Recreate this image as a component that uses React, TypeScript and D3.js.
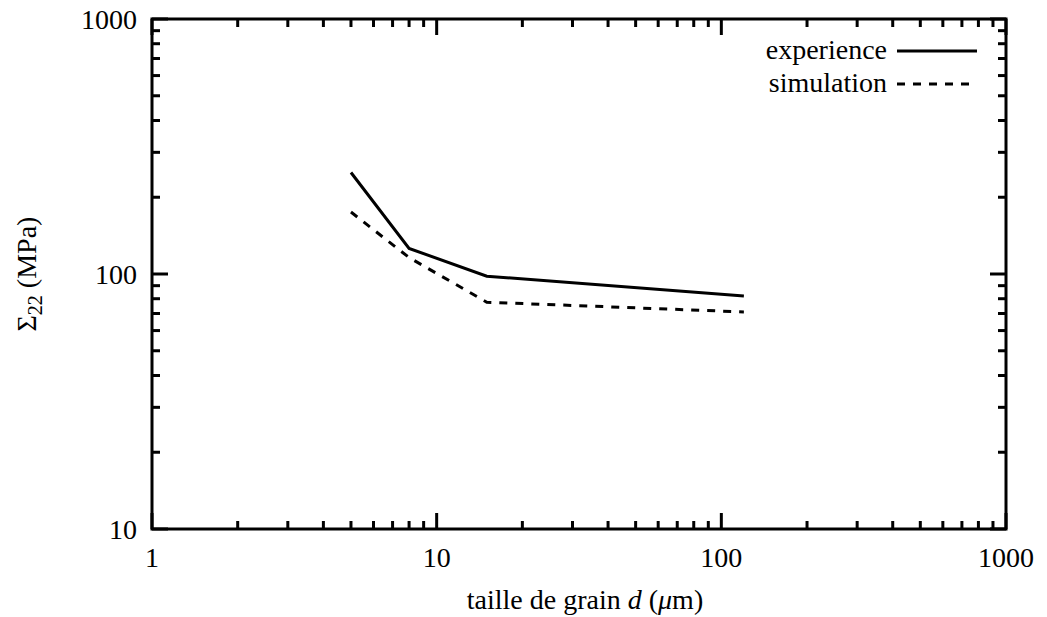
import React from "react";
import * as d3 from "d3";

const grainSize = [5, 8, 15, 120];
const experience = [250, 126, 98, 82];
const simulation = [175, 116, 77.5, 71];
const xTicks = [1, 10, 100, 1000];
const yTicks = [10, 100, 1000];
const legendLabels = ["experience", "simulation"];

const W = 1047, H = 617;
const left = 152, right = 1006, top = 19, bottom = 529;
const FONT = "'Liberation Serif', 'Times New Roman', serif";

export default function App() {
  const x = d3.scaleLog().domain([1, 1000]).range([left, right]);
  const y = d3.scaleLog().domain([10, 1000]).range([bottom, top]);
  const line = d3.line<number>().x((_, i) => x(grainSize[i])).y((d) => y(d));

  const minorX: number[] = [];
  for (let dec = 1; dec < 1000; dec *= 10) for (let k = 2; k <= 9; k++) minorX.push(dec * k);
  const minorY: number[] = [];
  for (let dec = 10; dec < 1000; dec *= 10) for (let k = 2; k <= 9; k++) minorY.push(dec * k);

  const sw = 3;
  const major = 16, minor = 8;
  const fs = 28;
  const dash = "8,8";
  return (
    <svg width={W} height={H} style={{ position: "absolute", left: 0, top: 0, background: "#fff" }} fontFamily={FONT}>
      <g stroke="#000" strokeWidth={sw}>
        {xTicks.map((t) => (
          <g key={"xt" + t}>
            <line x1={x(t)} x2={x(t)} y1={bottom} y2={bottom - major} />
            <line x1={x(t)} x2={x(t)} y1={top} y2={top + major} />
          </g>
        ))}
        {minorX.map((t) => (
          <g key={"xm" + t}>
            <line x1={x(t)} x2={x(t)} y1={bottom} y2={bottom - minor} />
            <line x1={x(t)} x2={x(t)} y1={top} y2={top + minor} />
          </g>
        ))}
        {yTicks.map((t) => (
          <g key={"yt" + t}>
            <line x1={left} x2={left + major} y1={y(t)} y2={y(t)} />
            <line x1={right} x2={right - major} y1={y(t)} y2={y(t)} />
          </g>
        ))}
        {minorY.map((t) => (
          <g key={"ym" + t}>
            <line x1={left} x2={left + minor} y1={y(t)} y2={y(t)} />
            <line x1={right} x2={right - minor} y1={y(t)} y2={y(t)} />
          </g>
        ))}
      </g>
      <rect x={left} y={top} width={right - left} height={bottom - top} fill="none" stroke="#000" strokeWidth={sw} />
      {xTicks.map((t) => (
        <text key={"xl" + t} x={x(t)} y={567} textAnchor="middle" fontSize={fs}>{t}</text>
      ))}
      {yTicks.map((t) => (
        <text key={"yl" + t} x={137} y={y(t) + 10} textAnchor="end" fontSize={fs}>{t}</text>
      ))}
      <text x={585} y={609} textAnchor="middle" fontSize={fs}>
        taille de grain <tspan fontStyle="italic">d</tspan> (<tspan fontStyle="italic">μ</tspan>m)
      </text>
      <text transform={`translate(36, ${(top + bottom) / 2}) rotate(-90)`} textAnchor="middle" fontSize={fs}>
        Σ<tspan fontSize={20} dy={6}>22</tspan><tspan dy={-6}> (MPa)</tspan>
      </text>
      <path d={line(experience) || ""} fill="none" stroke="#000" strokeWidth={sw} />
      <path d={line(simulation) || ""} fill="none" stroke="#000" strokeWidth={sw} strokeDasharray={dash} />
      <text x={887} y={59} textAnchor="end" fontSize={fs}>{legendLabels[0]}</text>
      <line x1={897} x2={977} y1={51} y2={51} stroke="#000" strokeWidth={sw} />
      <text x={887} y={92} textAnchor="end" fontSize={fs}>{legendLabels[1]}</text>
      <line x1={897} x2={977} y1={84} y2={84} stroke="#000" strokeWidth={sw} strokeDasharray={dash} />
    </svg>
  );
}
